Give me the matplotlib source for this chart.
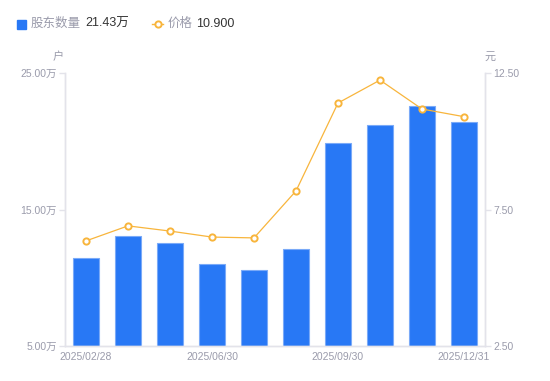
import matplotlib
matplotlib.use("Agg")
import matplotlib.pyplot as plt
from matplotlib.lines import Line2D

plt.rcParams["font.family"] = ["Liberation Sans", "Noto Sans CJK SC", "DejaVu Sans"]

# data
dates = ["2025/02/28", "2025/03/31", "2025/04/30", "2025/06/30", "2025/07/31",
         "2025/08/29", "2025/09/30", "2025/10/31", "2025/11/28", "2025/12/31"]
holders = [11.45, 13.06, 12.55, 11.01, 10.57, 12.11, 19.87, 21.19, 22.58, 21.43]  # 万户
price = [6.35, 6.90, 6.71, 6.49, 6.46, 8.18, 11.40, 12.24, 11.18, 10.90]  # 元
left_ticks = [5, 15, 25]
right_ticks = [2.5, 7.5, 12.5]

BLUE = "#2878f5"
ORANGE = "#f8b53c"
GREY = "#9a9bab"
AXIS = "#e3e3ea"

fig = plt.figure(figsize=(5.5, 3.81), dpi=100)
ax = fig.add_axes([65 / 550, 35 / 381, 420 / 550, 273 / 381])
ax2 = ax.twinx()

x = list(range(len(dates)))
ax.bar(x, holders, width=0.6, color=BLUE, edgecolor="#7aaaf8", linewidth=0.8, zorder=2)
ax.set_xlim(-0.5, len(dates) - 0.5)
ax.set_ylim(5, 25)
ax.set_yticks(left_ticks)
ax.set_yticklabels([f"{v:.2f}万" for v in left_ticks])
ax.set_xticks(x[::3])
ax.set_xticklabels(dates[::3])

ax2.plot(x, price, color=ORANGE, linewidth=0.9, marker="o", markersize=4.5,
         markerfacecolor="white", markeredgecolor=ORANGE, markeredgewidth=1.4, zorder=3)
ax2.set_ylim(2.5, 12.5)
ax2.set_yticks(right_ticks)
ax2.set_yticklabels([f"{v:.2f}" for v in right_ticks])

for a in (ax, ax2):
    a.spines["top"].set_visible(False)
    for side in ("left", "right", "bottom"):
        a.spines[side].set_color(AXIS)
        a.spines[side].set_linewidth(1)
    a.tick_params(axis="both", colors=AXIS, labelcolor=GREY, labelsize=7.5, length=4, width=1)
ax.tick_params(axis="x", length=0, pad=4)
ax.tick_params(axis="y", pad=2)
ax2.tick_params(axis="y", pad=2)

# axis units
fig.text(58 / 550, 1 - 57 / 381, "户", color=GREY, fontsize=8, ha="center", va="center")
fig.text(490 / 550, 1 - 57 / 381, "元", color=GREY, fontsize=8, ha="center", va="center")

# legend
ly = 1 - 24 / 381
fig.patches.append(plt.Rectangle((17 / 550, 1 - 29 / 381), 9 / 550, 9 / 381,
                                 transform=fig.transFigure, color=BLUE, figure=fig))
fig.text(31 / 550, ly, "股东数量", color=GREY, fontsize=9, va="center")
fig.text(85 / 550, ly, "21.43万", color="#333333", fontsize=9, va="center")
fig.lines.append(Line2D([152 / 550, 163 / 550], [ly, ly], transform=fig.transFigure,
                        color=ORANGE, linewidth=1, figure=fig))
fig.lines.append(Line2D([157.5 / 550], [ly], transform=fig.transFigure, color=ORANGE,
                        marker="o", markersize=4.5, markerfacecolor="white",
                        markeredgewidth=1.4, figure=fig))
fig.text(168 / 550, ly, "价格", color=GREY, fontsize=9, va="center")
fig.text(196 / 550, ly, "10.900", color="#333333", fontsize=9, va="center")

fig.savefig("out.png", dpi=100)
